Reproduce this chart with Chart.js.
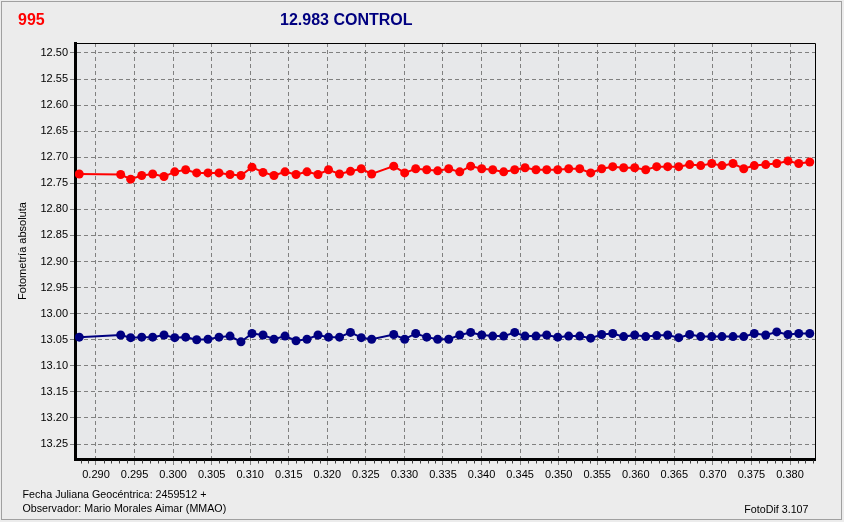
<!DOCTYPE html>
<html><head><meta charset="utf-8">
<script src="https://cdn.jsdelivr.net/npm/chart.js@4/dist/chart.umd.min.js"></script>
<style>html,body{margin:0;padding:0;background:#ececec;overflow:hidden}canvas{display:block}</style>
</head><body>
<canvas id="c" width="844" height="522"></canvas>
<script>
// Julian date fraction (JD - 2459512)
const jd = [0.28783, 0.29320, 0.29450, 0.29593, 0.29735, 0.29882, 0.30021, 0.30163, 0.30306, 0.30452,
  0.30595, 0.30738, 0.30880, 0.31023, 0.31166, 0.31308, 0.31451, 0.31594, 0.31736, 0.31879,
  0.32015, 0.32158, 0.32300, 0.32440, 0.32575, 0.32861, 0.33003, 0.33146, 0.33289, 0.33431,
  0.33574, 0.33717, 0.33859, 0.34002, 0.34145, 0.34287, 0.34430, 0.34564, 0.34706, 0.34845,
  0.34988, 0.35130, 0.35273, 0.35415, 0.35558, 0.35701, 0.35843, 0.35986, 0.36129, 0.36271,
  0.36414, 0.36557, 0.36699, 0.36842, 0.36985, 0.37118, 0.37261, 0.37400, 0.37537, 0.37685,
  0.37828, 0.37974, 0.38113, 0.38256];
// Star 995 absolute photometry (red)
const mag995 = [12.732, 12.733, 12.742, 12.735, 12.732, 12.737, 12.728, 12.724, 12.730, 12.730,
  12.730, 12.733, 12.735, 12.719, 12.729, 12.735, 12.728, 12.733, 12.728, 12.733,
  12.724, 12.732, 12.727, 12.722, 12.732, 12.717, 12.730, 12.722, 12.724, 12.726,
  12.722, 12.728, 12.717, 12.722, 12.724, 12.728, 12.724, 12.720, 12.724, 12.724,
  12.724, 12.722, 12.722, 12.730, 12.722, 12.718, 12.720, 12.720, 12.724, 12.718,
  12.718, 12.718, 12.714, 12.716, 12.712, 12.716, 12.712, 12.722, 12.716, 12.714,
  12.712, 12.707, 12.712, 12.709];
// Control star 12.983 (navy)
const magControl = [13.045, 13.041, 13.046, 13.045, 13.045, 13.041, 13.046, 13.045, 13.050, 13.049,
  13.045, 13.043, 13.054, 13.038, 13.041, 13.049, 13.043, 13.052, 13.049, 13.041,
  13.045, 13.045, 13.036, 13.046, 13.049, 13.040, 13.049, 13.038, 13.045, 13.049,
  13.049, 13.041, 13.036, 13.041, 13.043, 13.043, 13.036, 13.043, 13.043, 13.041,
  13.045, 13.043, 13.043, 13.047, 13.040, 13.038, 13.044, 13.041, 13.044, 13.042,
  13.041, 13.046, 13.040, 13.044, 13.044, 13.044, 13.044, 13.044, 13.038, 13.041,
  13.035, 13.040, 13.038, 13.038];
const xTicks = [0.290, 0.295, 0.300, 0.305, 0.310, 0.315, 0.320, 0.325, 0.330, 0.335,
  0.340, 0.345, 0.350, 0.355, 0.360, 0.365, 0.370, 0.375, 0.380];
const yTicks = [12.50, 12.55, 12.60, 12.65, 12.70, 12.75, 12.80, 12.85, 12.90, 12.95,
  13.00, 13.05, 13.10, 13.15, 13.20, 13.25];
const starName = '995';
const controlName = '12.983 CONTROL';
const yTitle = 'Fotometría absoluta';
const footer1 = 'Fecha Juliana Geocéntrica: 2459512 +';
const footer2 = 'Observador: Mario Morales Aimar (MMAO)';
const footer3 = 'FotoDif 3.107';

const FONT = '"Liberation Sans", Arial, sans-serif';

const bgPlugin = {
  id: 'bg',
  beforeDraw(chart) {
    const {ctx, chartArea: a} = chart;
    ctx.save();
    ctx.fillStyle = '#ececec';
    ctx.fillRect(0, 0, chart.width, chart.height);
    ctx.strokeStyle = '#a0a0a0';
    ctx.lineWidth = 1;
    ctx.strokeRect(1.5, 1.5, 840, 518);
    ctx.fillStyle = '#e7e8ea';
    ctx.fillRect(a.left, a.top, a.right - a.left, a.bottom - a.top);
    ctx.restore();
  },
  afterDraw(chart) {
    const {ctx, chartArea: a} = chart;
    const xs = chart.scales.x;
    ctx.save();
    // top & right frame
    ctx.strokeStyle = '#000';
    ctx.lineWidth = 1;
    ctx.beginPath();
    ctx.moveTo(a.left, a.top + 0.5);
    ctx.lineTo(a.right + 0.5, a.top + 0.5);
    ctx.lineTo(a.right + 0.5, a.bottom);
    ctx.stroke();
    // minor x ticks
    ctx.strokeStyle = '#404040';
    ctx.beginPath();
    for (let i = 288; i <= 383; i++) {
      if (i % 5 === 0) continue;
      const px = Math.round(xs.getPixelForValue(i / 1000)) + 0.5;
      ctx.moveTo(px, a.bottom + 1.5);
      ctx.lineTo(px, a.bottom + 4.5);
    }
    ctx.stroke();
    // titles
    ctx.textBaseline = 'alphabetic';
    ctx.font = 'bold 16px ' + FONT;
    ctx.fillStyle = '#ff0000';
    ctx.textAlign = 'left';
    ctx.fillText(starName, 18, 25);
    ctx.fillStyle = '#000080';
    ctx.fillText(controlName, 280, 25);
    // footers
    ctx.font = '10.7px ' + FONT;
    ctx.fillStyle = '#000';
    ctx.fillText(footer1, 22.5, 497.5);
    ctx.fillText(footer2, 22.5, 511.5);
    ctx.textAlign = 'right';
    ctx.fillText(footer3, 808.5, 513);
    ctx.restore();
  }
};

const pts = (ys) => jd.map((x, i) => ({x, y: ys[i]}));

new Chart(document.getElementById('c'), {
  type: 'line',
  data: {
    datasets: [
      {label: starName, data: pts(mag995), borderColor: '#ff0000', backgroundColor: '#ff0000',
       borderWidth: 2, pointRadius: 4.5, pointHoverRadius: 4.5, pointBorderWidth: 0, tension: 0, fill: false},
      {label: controlName, data: pts(magControl), borderColor: '#000080', backgroundColor: '#000080',
       borderWidth: 2, pointRadius: 4.5, pointHoverRadius: 4.5, pointBorderWidth: 0, tension: 0, fill: false}
    ]
  },
  options: {
    responsive: false,
    animation: false,
    events: [],
    layout: {padding: {left: 0, top: 43, right: 29, bottom: 0}},
    plugins: {legend: {display: false}, tooltip: {enabled: false}},
    scales: {
      x: {
        type: 'linear', min: 0.287277, max: 0.383242,
        afterBuildTicks: s => { s.ticks = xTicks.map(v => ({value: v})); },
        afterFit: s => { s.height = 63; },
        grid: {color: '#808080', lineWidth: 1, tickLength: 6, tickColor: '#808080', tickBorderDash: [4, 3]},
        border: {display: true, color: '#000', width: 3, dash: [4, 3]},
        ticks: {autoSkip: false, maxRotation: 0, color: '#000', padding: 3,
          font: {family: FONT, size: 11}, callback: v => v.toFixed(3)}
      },
      y: {
        type: 'linear', reverse: true, min: 12.48082, max: 13.27877,
        afterBuildTicks: s => { s.ticks = yTicks.map(v => ({value: v})); },
        afterFit: s => { s.width = 75; },
        grid: {color: '#808080', lineWidth: 1, tickLength: 5, tickColor: '#808080', tickBorderDash: [4, 3]},
        border: {display: true, color: '#000', width: 3, dash: [4, 3]},
        ticks: {color: '#000', padding: 2, font: {family: FONT, size: 11}, callback: v => v.toFixed(2)},
        title: {display: true, text: yTitle, color: '#000', font: {family: FONT, size: 11},
          padding: {top: 16, bottom: 0}}
      }
    }
  },
  plugins: [bgPlugin]
});
</script>
</body></html>
